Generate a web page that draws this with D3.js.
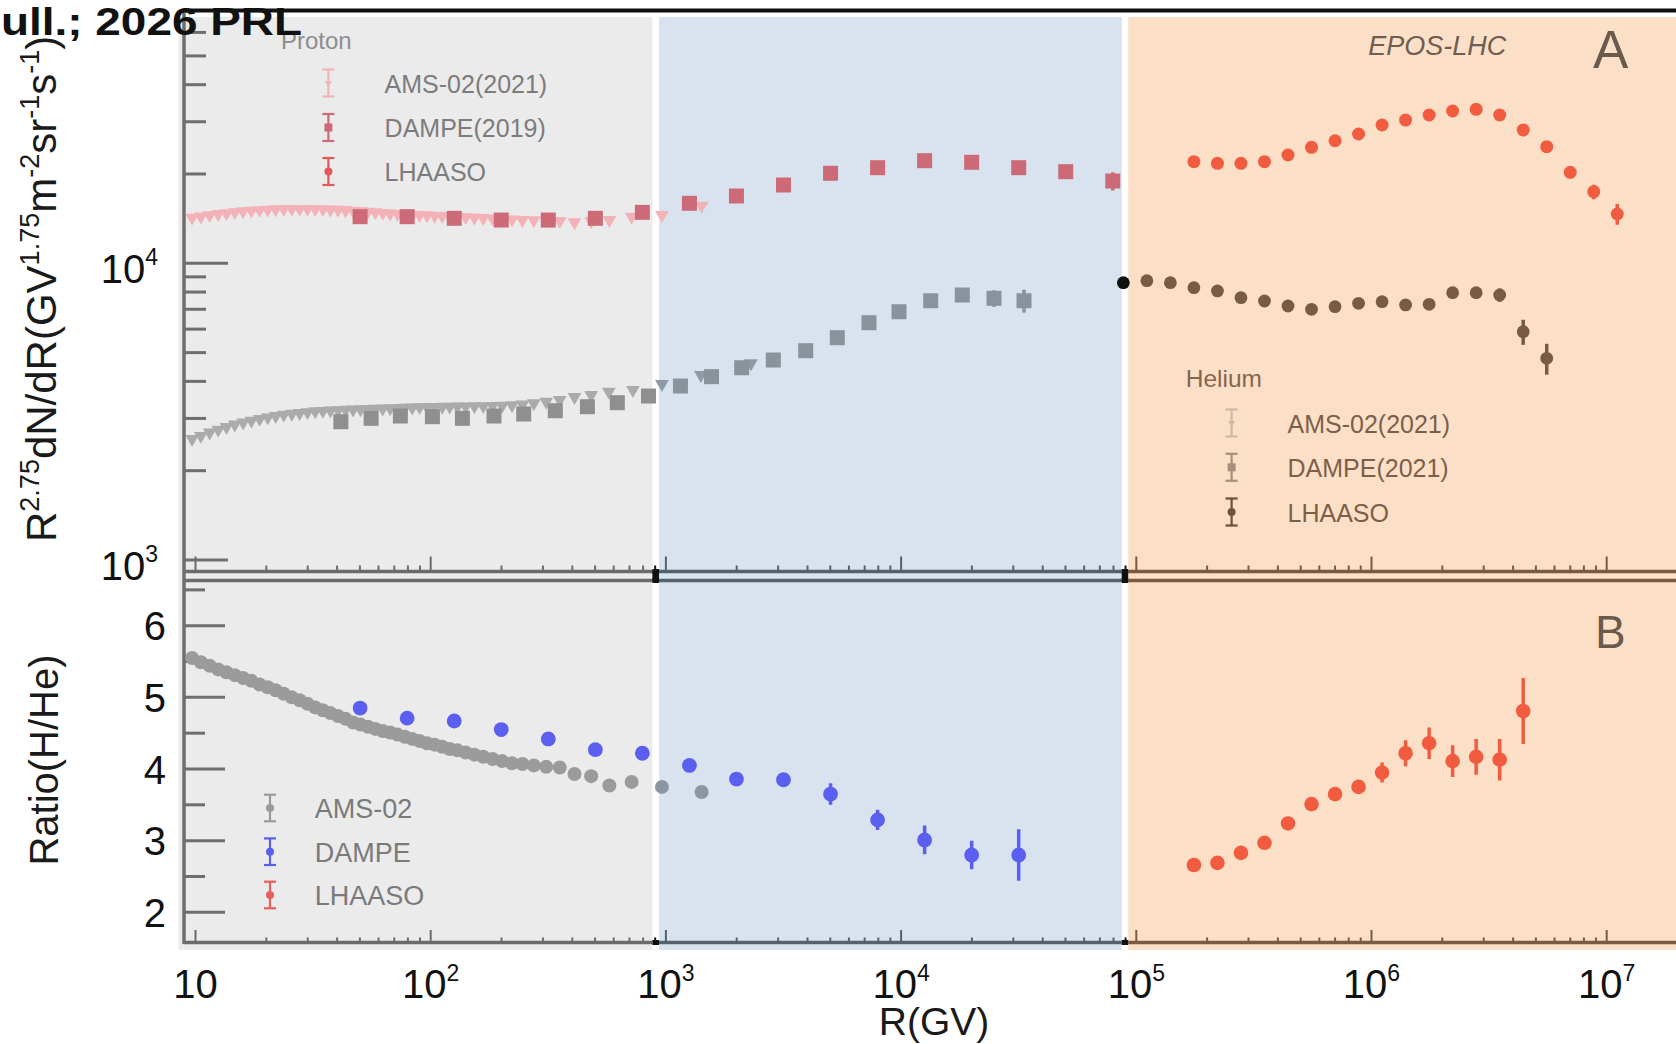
<!DOCTYPE html>
<html>
<head>
<meta charset="utf-8">
<script src="https://cdn.jsdelivr.net/npm/d3@7"></script>
<style>
  html, body { margin: 0; padding: 0; background: #ffffff; }
  svg { display: block; }
  text { font-family: "Liberation Sans", Arial, Helvetica, sans-serif; }
</style>
</head>
<body>
<svg id="chart" width="1676" height="1044"></svg>
<script>
// ---------------------------------------------------------------
// Data: rigidity R in GV, flux as R^2.75 dN/dR, ratio H/He
// ---------------------------------------------------------------

// AMS-02 (2021) proton
const amsP_R = [9.67, 10.54, 11.49, 12.49, 13.54, 14.69, 15.94, 17.29, 18.73, 20.28,
  21.93, 23.73, 25.68, 27.73, 29.93, 32.28, 34.78, 37.47, 40.37, 43.47,
  46.77, 50.32, 54.12, 58.16, 62.51, 67.21, 72.25, 77.65, 83.45, 89.69,
  96.44, 103.9, 111.9, 120.4, 129.9, 140.8, 153.4, 167.3, 183.3, 201.3,
  221.7, 245.6, 274.5, 309.9, 353.7, 408.8, 481.2, 575, 715, 962, 1419];
const amsP_F = [14250, 14370, 14520, 14650, 14760, 14870, 14970, 15050, 15110, 15170,
  15210, 15240, 15250, 15250, 15250, 15240, 15220, 15190, 15150, 15100,
  15040, 14990, 14930, 14860, 14790, 14720, 14670, 14620, 14580, 14550,
  14510, 14470, 14430, 14390, 14350, 14310, 14260, 14210, 14170, 14110,
  14060, 14000, 13960, 13920, 13880, 13750, 13850, 13990, 14360, 14550, 15640];

// AMS-02 (2021) helium
const amsHe_R = [9.67, 10.54, 11.49, 12.49, 13.54, 14.69, 15.94, 17.29, 18.73, 20.28,
  21.93, 23.73, 25.68, 27.73, 29.93, 32.28, 34.78, 37.47, 40.37, 43.47,
  46.77, 50.32, 54.12, 58.16, 62.51, 67.21, 72.25, 77.65, 83.45, 89.69,
  96.44, 103.9, 111.9, 120.4, 129.9, 140.8, 153.4, 167.3, 183.3, 201.3,
  221.7, 245.6, 274.5, 309.9, 353.7, 408.8, 481.2, 572, 724, 962, 1409, 2301];
const amsHe_F = [2560, 2620, 2690, 2750, 2810, 2860, 2905, 2950, 2990, 3025,
  3055, 3090, 3110, 3130, 3150, 3170, 3180, 3190, 3200, 3208,
  3215, 3222, 3229, 3235, 3241, 3247, 3253, 3259, 3266, 3275,
  3279, 3282, 3285, 3288, 3291, 3294, 3297, 3300, 3305, 3312,
  3325, 3343, 3375, 3416, 3461, 3543, 3598, 3691, 3741, 3919, 4202, 4603];

// DAMPE (2019) proton
const dampeP_R = [50.1, 79.4, 125.9, 199.5, 316.2, 501.2, 794.3, 1259, 1995, 3162,
  5012, 7943, 12589, 19953, 31623, 50119, 79433];
const dampeP_F = [14360, 14360, 14180, 13990, 13990, 14180, 14850, 15930, 16860, 18360,
  20110, 21000, 22170, 21900, 21000, 20360, 18940];
const dampeP_E = [0, 0, 0, 0, 0, 0, 0, 0, 0, 0, 0, 0, 0, 500, 700, 1120, 1330];

// DAMPE (2021) helium
const dampeHe_R = [41.5, 55.8, 74.3, 101.7, 136.4, 185.8, 248.6, 338.7, 463.7, 621.5,
  843.4, 1153, 1563, 2100, 2862, 3930, 5355, 7302, 9797, 13360, 18200, 24830, 33310];
const dampeHe_F = [2924, 3003, 3057, 3041, 3003, 3057, 3105, 3185, 3286, 3390,
  3570, 3858, 4148, 4446, 4721, 5075, 5614, 6306, 6867, 7479, 7819, 7621, 7479];
const dampeHe_E = [0, 0, 0, 0, 0, 0, 0, 0, 0, 0, 0, 0, 0, 0, 0, 0, 0, 0, 0, 0, 250, 490, 665];

// LHAASO proton
const lhaasoP_R = [175800, 221300, 278600, 350800, 441600, 555900, 699800, 881000,
  1109000, 1396000, 1758000, 2213000, 2786000, 3508000, 4416000, 5559000,
  6998000, 8810000, 11090000];
const lhaasoP_F = [22000, 21730, 21730, 22000, 23170, 24600, 25880, 27280, 29250, 30400,
  31610, 32600, 33040, 31610, 28140, 24720, 20260, 17430, 14660];
const lhaasoP_E = [0, 0, 0, 0, 0, 0, 0, 0, 0, 0, 0, 0, 0, 0, 0, 600, 700, 980, 1170];

// LHAASO helium
const lhaasoHe_R = [88100, 110900, 139600, 175800, 221300, 278600, 350800, 441600,
  555900, 699800, 881000, 1109000, 1396000, 1758000, 2213000, 2786000,
  3508000, 4416000, 5559000];
const lhaasoHe_F = [8602, 8737, 8602, 8277, 8068, 7659, 7464, 7180, 6998, 7141,
  7332, 7423, 7237, 7276, 7962, 7962, 7822, 5882, 4784];
const lhaasoHe_E = [0, 0, 0, 0, 0, 0, 0, 0, 0, 0, 0, 0, 0, 0, 0, 250, 410, 570, 570];

// H/He ratio
const amsRatio_R = amsP_R;
const amsRatio_V = [5.55, 5.49, 5.44, 5.39, 5.35, 5.31, 5.27, 5.23, 5.18, 5.14,
  5.10, 5.05, 5.00, 4.96, 4.91, 4.86, 4.82, 4.78, 4.74, 4.70,
  4.65, 4.62, 4.59, 4.56, 4.53, 4.51, 4.48, 4.45, 4.42, 4.39,
  4.36, 4.34, 4.31, 4.28, 4.26, 4.23, 4.20, 4.17, 4.14, 4.11,
  4.08, 4.07, 4.05, 4.03, 4.02, 3.93, 3.90, 3.77, 3.82, 3.75, 3.68];

const dampeRatio_R = [50.1, 79.4, 125.9, 199.5, 316.2, 501.2, 794.3, 1259, 1995, 3162,
  5012, 7943, 12589, 19953, 31623];
const dampeRatio_V = [4.85, 4.71, 4.67, 4.55, 4.42, 4.27, 4.22, 4.05, 3.86, 3.85,
  3.65, 3.29, 3.01, 2.80, 2.80];
const dampeRatio_E = [0, 0, 0, 0, 0, 0, 0, 0, 0, 0.04, 0.15, 0.14, 0.20, 0.20, 0.36];

const lhaasoRatio_R = [175800, 221300, 278600, 350800, 441600, 555900, 699800, 881000,
  1109000, 1396000, 1758000, 2213000, 2786000, 3508000, 4416000];
const lhaasoRatio_V = [2.66, 2.69, 2.83, 2.97, 3.24, 3.51, 3.65, 3.75, 3.95, 4.22,
  4.36, 4.11, 4.17, 4.13, 4.81];
const lhaasoRatio_E = [0, 0, 0, 0, 0, 0, 0, 0.05, 0.14, 0.18, 0.22, 0.22, 0.25, 0.29, 0.46];

// Energy ranges shaded behind the data (GV): direct, transition, LHAASO
const regionStart = [8.5, 935, 92360];
const regionEnd = [876, 86700, 3e7];

// Axis ticks
const xTickExps = [1, 2, 3, 4, 5, 6, 7];
const fluxTickExps = [3, 4];
const ratioTicks = [2, 3, 4, 5, 6];

// Legend texts
const protonLegend = ["AMS-02(2021)", "DAMPE(2019)", "LHAASO"];
const heliumLegend = ["AMS-02(2021)", "DAMPE(2021)", "LHAASO"];
const ratioLegend = ["AMS-02", "DAMPE", "LHAASO"];

// ---------------------------------------------------------------
// Layout and style
// ---------------------------------------------------------------
const W = 1676, H = 1044;
const plotLeft = 184, plotRight = 1676;
const bgTop = 17, bgBottom = 950, bgLeft = 178.5;
const aTop = 17, aBottom = 571.5, bTop = 580.5, bBottom = 942.5;

const regionFill = ["#ebebeb", "#d9e3ef", "#fcdfc7"];
const regionAxis = ["#6b6b6b", "#56616e", "#7a5a40"];
const gapAxis = "#111111";

const svg = d3.select("#chart");
svg.append("rect").attr("width", W).attr("height", H).attr("fill", "#ffffff");

const x = d3.scaleLog().domain([10, 1e7]).range([195.5, 1606.7]);
const yA = d3.scaleLog().domain([1e3, 1e4]).range([560, 263.3]);
const yB = d3.scaleLinear().domain([2, 6]).range([912.3, 625.7]);

function regionOf(R) {
  for (let i = 0; i < regionStart.length; i++) {
    if (R >= regionStart[i] && R < regionEnd[i]) return i;
  }
  return -1;
}

// ---------------------------------------------------------------
// Shaded ranges
// ---------------------------------------------------------------
const bg = svg.append("g");
regionStart.forEach((s, i) => {
  const x0 = i === 0 ? bgLeft : x(s);
  const x1 = Math.min(x(regionEnd[i]), W + 10);
  bg.append("rect")
    .attr("x", x0).attr("y", bgTop)
    .attr("width", x1 - x0).attr("height", bgBottom - bgTop)
    .attr("fill", regionFill[i]);
});

// top frame line
svg.append("line")
  .attr("x1", plotLeft).attr("x2", W)
  .attr("y1", 10.5).attr("y2", 10.5)
  .attr("stroke", "#111").attr("stroke-width", 4.2);

// ---------------------------------------------------------------
// Horizontal axis lines (coloured per range) and x ticks
// ---------------------------------------------------------------
const axes = svg.append("g");
function hAxisLine(y) {
  regionStart.forEach((s, i) => {
    const x0 = i === 0 ? plotLeft : x(s);
    const x1 = Math.min(x(regionEnd[i]), W + 10);
    axes.append("line").attr("x1", x0).attr("x2", x1).attr("y1", y).attr("y2", y)
      .attr("stroke", regionAxis[i]).attr("stroke-width", 3.5);
    if (i < regionStart.length - 1) {
      axes.append("rect")
        .attr("x", x(regionEnd[i])).attr("y", y - 2.5)
        .attr("width", x(regionStart[i + 1]) - x(regionEnd[i])).attr("height", 5)
        .attr("fill", gapAxis);
    }
  });
}
hAxisLine(aBottom);
hAxisLine(bTop);
hAxisLine(bBottom);

// gap marks bridging the two panels
regionEnd.slice(0, 2).forEach((e, i) => {
  axes.append("rect")
    .attr("x", x(e)).attr("y", aBottom - 1)
    .attr("width", x(regionStart[i + 1]) - x(e)).attr("height", bTop - aBottom + 2)
    .attr("fill", gapAxis);
});

// x tick values
const xTicks = [];
xTickExps.concat([8]).forEach(e => {
  for (let m = 1; m <= 9; m++) {
    const v = m * Math.pow(10, e - 1);
    const px = x(v);
    if (px > plotLeft + 4 && px < W) xTicks.push({ v, major: m === 1 });
  }
});
function xTickMarks(y, majorLen, minorLen) {
  xTicks.forEach(t => {
    const r = regionOf(t.v);
    axes.append("line")
      .attr("x1", x(t.v)).attr("x2", x(t.v))
      .attr("y1", y).attr("y2", y - (t.major ? majorLen : minorLen))
      .attr("stroke", r < 0 ? gapAxis : regionAxis[r]).attr("stroke-width", 2);
  });
}
xTickMarks(aBottom, 15, 6);
xTickMarks(bBottom, 12.5, 5);

// left axis line
axes.append("line")
  .attr("x1", plotLeft).attr("x2", plotLeft)
  .attr("y1", 12).attr("y2", bBottom + 1.5)
  .attr("stroke", "#6e6e6e").attr("stroke-width", 3.5);

// flux ticks (log)
for (let e = 3; e <= 4; e++) {
  for (let m = 1; m <= 9; m++) {
    const v = m * Math.pow(10, e);
    const py = yA(v);
    if (py < aTop + 10 || py > aBottom - 2) continue;
    axes.append("line")
      .attr("x1", plotLeft).attr("x2", plotLeft + (m === 1 ? 44 : 22))
      .attr("y1", py).attr("y2", py)
      .attr("stroke", "#6e6e6e").attr("stroke-width", 3);
  }
}
// ratio ticks (linear)
d3.range(2, 7, 0.5).forEach(v => {
  const py = yB(v);
  axes.append("line")
    .attr("x1", plotLeft).attr("x2", plotLeft + (Number.isInteger(v) ? 41 : 21))
    .attr("y1", py).attr("y2", py)
    .attr("stroke", "#6e6e6e").attr("stroke-width", 3);
});

// ---------------------------------------------------------------
// Tick labels and axis titles
// ---------------------------------------------------------------
const labels = svg.append("g").attr("fill", "#111");

xTickExps.forEach(e => {
  const t = labels.append("text")
    .attr("x", x(Math.pow(10, e))).attr("y", 998)
    .attr("text-anchor", "middle").attr("font-size", 40);
  t.append("tspan").text("10");
  if (e > 1) t.append("tspan").attr("font-size", 23).attr("dy", -17).text(e);
});

fluxTickExps.forEach(e => {
  const t = labels.append("text")
    .attr("x", 158).attr("y", yA(Math.pow(10, e)) + 20)
    .attr("text-anchor", "end").attr("font-size", 40);
  t.append("tspan").text("10");
  t.append("tspan").attr("font-size", 23).attr("dy", -18).text(e);
});

ratioTicks.forEach(v => {
  labels.append("text")
    .attr("x", 166).attr("y", yB(v) + 14.5)
    .attr("text-anchor", "end").attr("font-size", 40)
    .text(v);
});

labels.append("text")
  .attr("x", 934).attr("y", 1035)
  .attr("text-anchor", "middle").attr("font-size", 39)
  .attr("fill", "#1a1a1a")
  .text("R(GV)");

// flux axis title with superscripts
const yt = labels.append("text")
  .attr("transform", "translate(56,542) rotate(-90)")
  .attr("font-size", 42).attr("fill", "#1a1a1a");
[["R", false], ["2.75", true], ["dN/dR(GV", false], ["1.75", true], ["m", false],
 ["-2", true], ["sr", false], ["-1", true], ["s", false], ["-1", true], [")", false]]
  .forEach(([s, sup], i, arr) => {
    const prevSup = i > 0 && arr[i - 1][1];
    const ts = yt.append("tspan").text(s);
    if (sup) ts.attr("font-size", 27).attr("dy", -17);
    else if (prevSup) ts.attr("dy", 17);
  });

labels.append("text")
  .attr("transform", "translate(58,760) rotate(-90)")
  .attr("text-anchor", "middle").attr("font-size", 40).attr("fill", "#1a1a1a")
  .text("Ratio(H/He)");

// ---------------------------------------------------------------
// Data marks
// ---------------------------------------------------------------
const defs = svg.append("defs");
defs.append("clipPath").attr("id", "clipA").append("rect")
  .attr("x", plotLeft + 1.8).attr("y", aTop)
  .attr("width", plotRight - plotLeft).attr("height", aBottom - aTop - 2);
defs.append("clipPath").attr("id", "clipB").append("rect")
  .attr("x", plotLeft + 1.8).attr("y", bTop + 2)
  .attr("width", plotRight - plotLeft).attr("height", bBottom - bTop - 4);

const gA = svg.append("g").attr("clip-path", "url(#clipA)");
const gB = svg.append("g").attr("clip-path", "url(#clipB)");

const triDown = d3.symbol().type(d3.symbolTriangle).size(82)();

function triangles(g, R, V, y, color) {
  g.append("g").selectAll("path").data(R).join("path")
    .attr("d", triDown)
    .attr("transform", (r, i) => `translate(${x(r)},${y(V[i])}) rotate(180)`)
    .attr("fill", (r) => typeof color === "function" ? color(r) : color);
}
function squares(g, R, V, y, color, size) {
  g.append("g").selectAll("rect").data(R).join("rect")
    .attr("x", r => x(r) - size / 2)
    .attr("y", (r, i) => y(V[i]) - size / 2)
    .attr("width", size).attr("height", size)
    .attr("fill", (r) => typeof color === "function" ? color(r) : color);
}
function circles(g, R, V, y, color, rad) {
  g.append("g").selectAll("circle").data(R).join("circle")
    .attr("cx", r => x(r))
    .attr("cy", (r, i) => y(V[i]))
    .attr("r", rad)
    .attr("fill", (r) => typeof color === "function" ? color(r) : color);
}
function errors(g, R, V, E, y, color, w) {
  g.append("g").selectAll("line").data(R.map((r, i) => i).filter(i => E[i] > 0)).join("line")
    .attr("x1", i => x(R[i])).attr("x2", i => x(R[i]))
    .attr("y1", i => y(V[i] - E[i])).attr("y2", i => y(V[i] + E[i]))
    .attr("stroke", color).attr("stroke-width", w);
}

// Panel A: helium
triangles(gA, amsHe_R, amsHe_F, yA, r => regionOf(r) === 1 ? "#8f9aa8" : "#ababab");
squares(gA, dampeHe_R, dampeHe_F, yA, r => regionOf(r) === 1 ? "#8a929c" : "#8f8f8f", 15);
errors(gA, dampeHe_R, dampeHe_F, dampeHe_E, yA, "#8a929c", 3.5);
errors(gA, lhaasoHe_R, lhaasoHe_F, lhaasoHe_E, yA, "#7a5a40", 3.5);
circles(gA, lhaasoHe_R, lhaasoHe_F, yA, r => regionOf(r) === 2 ? "#7a5b42" : "#111111", 6.4);

// Panel A: proton
triangles(gA, amsP_R, amsP_F, yA, "#f2b2b7");
errors(gA, dampeP_R, dampeP_F, dampeP_E, yA, "#cc6b77", 3.5);
squares(gA, dampeP_R, dampeP_F, yA, "#cc6b77", 15);
errors(gA, lhaasoP_R, lhaasoP_F, lhaasoP_E, yA, "#f15b40", 3.5);
circles(gA, lhaasoP_R, lhaasoP_F, yA, "#f15b40", 6.5);

// Panel B: ratio
circles(gB, amsRatio_R, amsRatio_V, yB, r => regionOf(r) === 1 ? "#8c96a2" : (regionOf(r) < 0 ? "#6f7378" : "#9b9b9b"), 7);
errors(gB, dampeRatio_R, dampeRatio_V, dampeRatio_E, yB, "#5a5ff0", 3.5);
circles(gB, dampeRatio_R, dampeRatio_V, yB, "#5a5ff0", 7.4);
errors(gB, lhaasoRatio_R, lhaasoRatio_V, lhaasoRatio_E, yB, "#f15b40", 3.5);
circles(gB, lhaasoRatio_R, lhaasoRatio_V, yB, "#f15b40", 7.3);

// ---------------------------------------------------------------
// Legends
// ---------------------------------------------------------------
function legend(opts) {
  const g = svg.append("g");
  if (opts.title) {
    g.append("text").attr("x", opts.titleX).attr("y", opts.titleY)
      .attr("font-size", opts.titleSize).attr("fill", opts.titleColor).text(opts.title);
  }
  opts.items.forEach((label, i) => {
    const cy = opts.rowY[i];
    const c = opts.colors[i];
    const m = g.append("g").attr("transform", `translate(${opts.markX},${cy})`);
    m.append("line").attr("y1", -opts.bar).attr("y2", opts.bar).attr("stroke", c).attr("stroke-width", 2.2);
    [-opts.bar, opts.bar].forEach(yy => m.append("line")
      .attr("x1", -6).attr("x2", 6).attr("y1", yy).attr("y2", yy)
      .attr("stroke", c).attr("stroke-width", 2.2));
    const shape = opts.shapes[i];
    if (shape === "tri") m.append("path").attr("d", d3.symbol().type(d3.symbolTriangle).size(22)())
      .attr("transform", "rotate(180)").attr("fill", c);
    else if (shape === "sq") m.append("rect").attr("x", -4).attr("y", -4).attr("width", 8).attr("height", 8).attr("fill", c);
    else m.append("circle").attr("r", 4).attr("fill", c);
    g.append("text").attr("x", opts.textX).attr("y", cy + opts.textDy)
      .attr("font-size", opts.textSize).attr("fill", opts.textColor).text(label);
  });
}

legend({
  title: "Proton", titleX: 281, titleY: 48.5, titleSize: 24, titleColor: "#8d8d8d",
  items: protonLegend, rowY: [83, 127.5, 171.5], markX: 328.4, bar: 13.5,
  colors: ["#f0b4b8", "#cc6b77", "#e4575a"], shapes: ["tri", "sq", "dot"],
  textX: 384.6, textDy: 9.5, textSize: 25, textColor: "#7c7c7c"
});
legend({
  title: "Helium", titleX: 1185.7, titleY: 387.3, titleSize: 24.5, titleColor: "#86654d",
  items: heliumLegend, rowY: [423, 467.3, 512], markX: 1231.6, bar: 13.5,
  colors: ["#cdb9a7", "#a68f7c", "#6e513b"], shapes: ["tri", "sq", "dot"],
  textX: 1287.5, textDy: 10, textSize: 25, textColor: "#7d5f49"
});
legend({
  items: ratioLegend, rowY: [808, 851.7, 895], markX: 270, bar: 13.3,
  colors: ["#9a9a9a", "#5a5ff0", "#e8605a"], shapes: ["dot", "dot", "dot"],
  textX: 314.7, textDy: 10, textSize: 27, textColor: "#7a7a7a"
});

// ---------------------------------------------------------------
// Annotations
// ---------------------------------------------------------------
svg.append("text")
  .attr("x", 1368.2).attr("y", 55)
  .attr("font-family", "'Liberation Serif', 'Times New Roman', serif")
  .attr("font-style", "italic").attr("font-size", 27).attr("fill", "#6e5d50")
  .text("EPOS-LHC");

svg.append("text").attr("x", 1593).attr("y", 68.3)
  .attr("font-size", 53).attr("fill", "#6a5a4e").text("A");
svg.append("text").attr("x", 1595).attr("y", 648.3)
  .attr("font-size", 46).attr("fill", "#6a5a4e").text("B");

// header text
svg.append("text")
  .attr("x", 1).attr("y", 35)
  .attr("font-family", "'DejaVu Sans Condensed', 'DejaVu Sans', sans-serif")
  .attr("font-stretch", "condensed")
  .attr("font-weight", "bold").attr("font-size", 38)
  .attr("textLength", 301).attr("lengthAdjust", "spacingAndGlyphs")
  .attr("fill", "#111")
  .text("ull.; 2026 PRL");
</script>
</body>
</html>
